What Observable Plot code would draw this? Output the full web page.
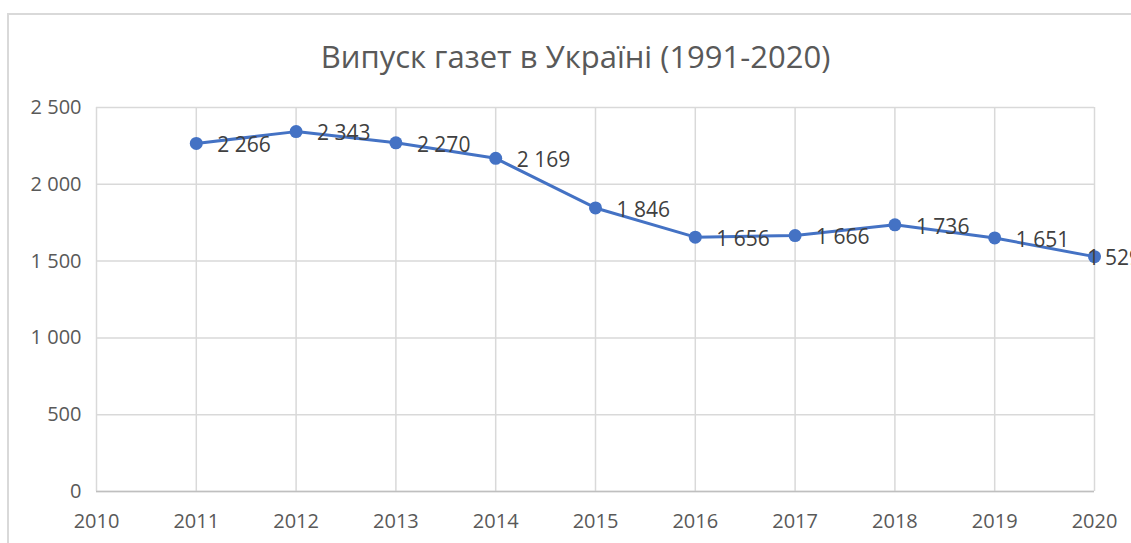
<!DOCTYPE html>
<html>
<head>
<meta charset="utf-8">
<script src="https://cdn.jsdelivr.net/npm/d3@7"></script>
<script src="https://cdn.jsdelivr.net/npm/@observablehq/plot@0.6"></script>
<style>
  html, body { margin: 0; padding: 0; background: #fff; overflow: hidden; }
  #wrap { position: relative; width: 1131px; height: 543px; overflow: hidden; }
  #frame { position: absolute; left: 7px; top: 13px; width: 1200px; height: 600px;
           border-top: 2px solid #d9d9d9; border-left: 2px solid #d9d9d9; pointer-events: none; }
  #title { position: relative; padding-top: 41px; height: 31px; line-height: 31px; margin-bottom: 18px;
           font-family: "Open Sans", sans-serif; font-size: 31px; color: #595959; text-align: center;
           padding-left: 20px; white-space: nowrap; }
  svg { display: block; }
</style>
</head>
<body>
<div id="wrap">
  <div id="frame"></div>
  <div id="title">Випуск газет в Україні (1991-2020)</div>
  <div id="chart"></div>
</div>
<script>
const years  = [2011, 2012, 2013, 2014, 2015, 2016, 2017, 2018, 2019, 2020];
const values = [2266, 2343, 2270, 2169, 1846, 1656, 1666, 1736, 1651, 1529];
const xTicks = [2010, 2011, 2012, 2013, 2014, 2015, 2016, 2017, 2018, 2019, 2020];
const yTicks = [0, 500, 1000, 1500, 2000, 2500];

const data = years.map((y, i) => ({year: y, value: values[i]}));
const fmt = v => d3.format(",")(v).replace(/,/g, " ");

const chart = Plot.plot({
  width: 1131,
  height: 453,
  marginLeft: 96,
  marginRight: 37,
  marginTop: 17,
  marginBottom: 52,
  style: {fontFamily: "Open Sans, sans-serif", color: "#595959", background: "transparent"},
  x: {domain: [2010, 2020], label: null},
  y: {domain: [0, 2500], label: null},
  marks: [
    Plot.gridY(yTicks, {stroke: "#d9d9d9", strokeOpacity: 1, strokeWidth: 1.5}),
    Plot.gridX(xTicks, {stroke: "#d9d9d9", strokeOpacity: 1, strokeWidth: 1.5}),
    Plot.ruleY([0], {stroke: "#bfbfbf", strokeWidth: 1.5}),
    Plot.axisY({ticks: yTicks, tickSize: 0, tickPadding: 15, fontSize: 20, tickFormat: fmt, label: null}),
    Plot.axisX({ticks: xTicks, tickSize: 0, tickPadding: 22, fontSize: 20, tickFormat: d => String(d), label: null}),
    Plot.line(data, {x: "year", y: "value", stroke: "#4472C4", strokeWidth: 3}),
    Plot.dot(data, {x: "year", y: "value", r: 6.5, fill: "#4472C4", stroke: "none"}),
    Plot.text(data.slice(0, -1), {x: "year", y: "value", text: d => fmt(d.value), textAnchor: "start",
      dx: 21, dy: 2, fontSize: 21, fill: "#404040"}),
    Plot.text(data.slice(-1), {x: "year", y: "value", text: d => fmt(d.value), textAnchor: "start",
      dx: -7, dy: 2, fontSize: 21, fill: "#404040"})
  ]
});
document.getElementById("chart").appendChild(chart);
</script>
</body>
</html>
